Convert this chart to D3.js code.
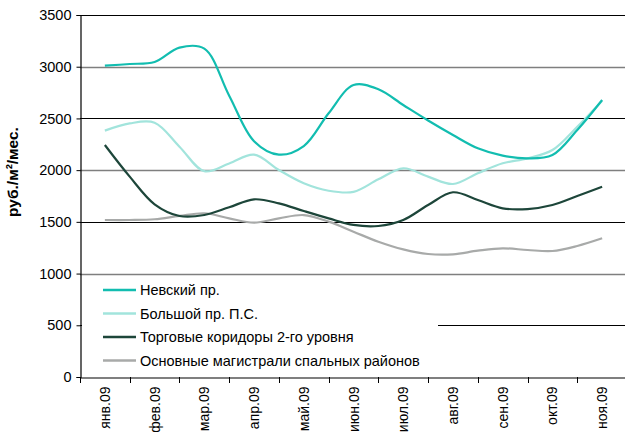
<!DOCTYPE html>
<html>
<head>
<meta charset="utf-8">
<script src="https://cdn.jsdelivr.net/npm/d3@7"></script>
<style>
  body { margin: 0; background: #fff; }
  svg { display: block; font-family: Arial, "Liberation Sans", sans-serif; }
</style>
</head>
<body>
<svg id="chart" width="625" height="432"></svg>
<script>
// months on the axis
const months = ["янв.09", "фев.09", "мар.09", "апр.09", "май.09", "июн.09",
  "июл.09", "авг.09", "сен.09", "окт.09", "ноя.09"]
// readings every half month (0, 0.5, 1 ... 10 in month units)
const steps = d3.range(0, 10.01, 0.5)
const nevsky = [3010, 3026, 3046, 3185, 3175, 2720, 2280, 2150, 2233, 2550, 2823,
  2782, 2630, 2480, 2340, 2211, 2140, 2114, 2146, 2388, 2678]
const bolshoy = [2382, 2452, 2459, 2227, 1990, 2065, 2150, 2001, 1873, 1801, 1790,
  1911, 2018, 1937, 1866, 1970, 2066, 2114, 2195, 2420, 2672]
const corridors = [2243, 1937, 1670, 1557, 1566, 1641, 1718, 1679, 1605, 1534, 1470,
  1460, 1518, 1663, 1786, 1711, 1631, 1624, 1663, 1750, 1840]
const magistrals = [1518, 1518, 1525, 1557, 1583, 1534, 1492, 1534, 1566, 1502, 1405,
  1308, 1234, 1189, 1186, 1221, 1244, 1228, 1218, 1267, 1341]
const seriesNames = ["Невский пр.", "Большой пр. П.С.", "Торговые коридоры 2-го уровня",
  "Основные магистрали спальных районов"]
const seriesColors = ["#12bdb0", "#a2e4dc", "#1d463a", "#a8aaa9"]
const yTicks = [0, 500, 1000, 1500, 2000, 2500, 3000, 3500]
const yTitle = "руб./м²/мес."

const svg = d3.select("#chart")
const plotLeft = 80, plotRight = 627, plotTop = 15, plotBottom = 377

const x = d3.scaleBand().domain(months).range([plotLeft, plotRight])
const xPos = d3.scaleLinear().domain([0, 10])
  .range([x(months[0]) + x.bandwidth() / 2, x(months[10]) + x.bandwidth() / 2])
const y = d3.scaleLinear().domain([0, 3500]).range([plotBottom, plotTop])

// gridlines (alternating dark / grey like the original)
svg.append("g")
  .selectAll("line")
  .data(yTicks.filter(d => d > 0))
  .join("line")
  .attr("x1", plotLeft).attr("x2", 625)
  .attr("y1", d => Math.round(y(d)) + 0.5).attr("y2", d => Math.round(y(d)) + 0.5)
  .attr("stroke", d => (d / 500) % 2 === 0 ? "#7f7f7f" : "#000")
  .attr("stroke-width", d => (d / 500) % 2 === 0 ? 1.6 : 1.2)

// y axis
const yAxis = svg.append("g")
  .attr("transform", `translate(${plotLeft + 0.5},0)`)
  .call(d3.axisLeft(y).tickValues(yTicks).tickSize(4).tickPadding(5).tickFormat(d3.format("d")))
yAxis.select(".domain").attr("stroke", "#000").attr("stroke-width", 1.2)
yAxis.selectAll(".tick line").attr("stroke", "#000")
yAxis.selectAll("text").attr("font-size", 14.5).attr("fill", "#000")
  .attr("font-family", "Arial, 'Liberation Sans', sans-serif")

svg.append("text")
  .attr("transform", `translate(18,172) rotate(-90)`)
  .attr("text-anchor", "middle")
  .attr("font-size", 15.5)
  .attr("font-weight", "bold")
  .text(yTitle)

// lines
const line = d3.line()
  .x((d, i) => xPos(steps[i]))
  .y(d => y(d))
  .curve(d3.curveCatmullRom.alpha(0.5))

const allSeries = [nevsky, bolshoy, corridors, magistrals]
svg.append("g")
  .selectAll("path")
  .data(allSeries.map((v, i) => ({ v, i })).reverse())
  .join("path")
  .attr("d", d => line(d.v))
  .attr("fill", "none")
  .attr("stroke", d => seriesColors[d.i])
  .attr("stroke-width", 2.2)

// legend
const lg = svg.append("g")
lg.append("rect")
  .attr("x", plotLeft + 2).attr("y", 278).attr("width", 438 - plotLeft - 2).attr("height", 94)
  .attr("fill", "#fff")
const rows = lg.selectAll("g.row")
  .data(seriesNames)
  .join("g")
  .attr("class", "row")
  .attr("transform", (d, i) => `translate(0,${290 + i * 23.5})`)
rows.append("line")
  .attr("x1", 103).attr("x2", 136)
  .attr("stroke", (d, i) => seriesColors[i])
  .attr("stroke-width", 2.5)
rows.append("text")
  .attr("x", 140).attr("y", 5)
  .attr("font-size", 14.5)
  .text(d => d)

// x axis
const xAxis = svg.append("g")
  .attr("transform", `translate(0,${plotBottom + 0.5})`)
  .call(d3.axisBottom(x).tickSize(0).tickPadding(0))
xAxis.select(".domain").attr("stroke", "#000").attr("stroke-width", 1.2)
xAxis.selectAll(".tick line").remove()
xAxis.selectAll("text")
  .attr("font-size", 14).attr("fill", "#000")
  .attr("font-family", "Arial, 'Liberation Sans', sans-serif")
  .attr("text-anchor", "end")
  .attr("dy", null)
  .attr("transform", "translate(5,9) rotate(-90)")
// boundary ticks between months
svg.append("g")
  .selectAll("line")
  .data(months.map(m => x(m)).concat([plotRight]))
  .join("line")
  .attr("x1", d => Math.round(d) + 0.5).attr("x2", d => Math.round(d) + 0.5)
  .attr("y1", plotBottom).attr("y2", plotBottom + 6)
  .attr("stroke", "#000")
</script>
</body>
</html>
